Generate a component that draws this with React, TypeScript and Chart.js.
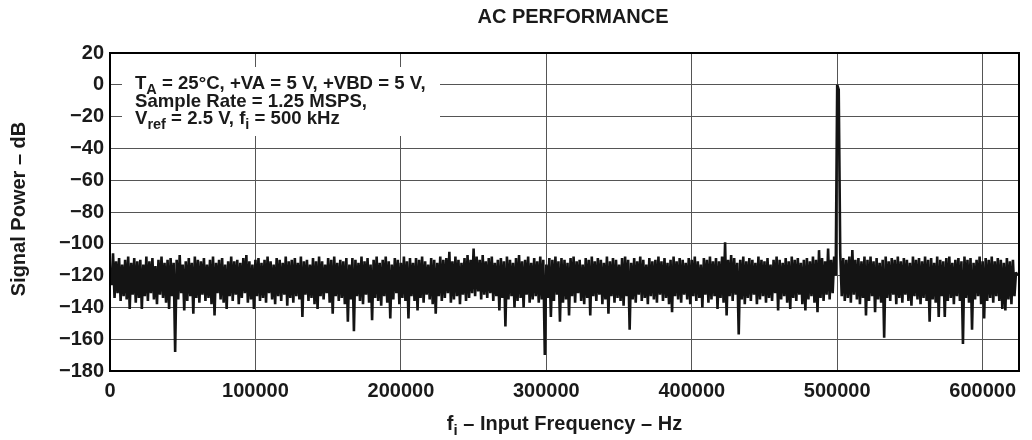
import React, { useEffect, useRef } from 'react';
import { Chart, registerables } from 'chart.js';

Chart.register(...registerables);

// ---------- data ----------
const chartTitle = 'AC PERFORMANCE';
const yAxisTitle = 'Signal Power \u2013 dB';
const xTickValues = [0, 100000, 200000, 300000, 400000, 500000, 600000];
const yTickValues = [20, 0, -20, -40, -60, -80, -100, -120, -140, -160, -180];
const xMaxHz = 625000;
const binCount = 600; // FFT bins spanning 0 .. Nyquist (625 kHz)

// Upper points of the noise floor (even bins), dB
const noiseHigh = [
  -118, -106, -111, -109, -113, -110, -108, -112, -109, -111,
  -110, -113, -108, -111, -109, -114, -110, -108, -112, -110,
  -109, -112, -110, -107, -113, -111, -109, -112, -108, -110,
  -111, -109, -113, -110, -108, -112, -110, -109, -113, -111,
  -108, -111, -110, -112, -109, -107, -111, -113, -110, -109,
  -112, -110, -108, -111, -113, -109, -110, -112, -108, -111,
  -110, -109, -112, -108, -111, -110, -113, -109, -111, -108,
  -111, -113, -109, -110, -108, -112, -110, -111, -109, -113,
  -109, -110, -112, -108, -111, -109, -113, -110, -108, -112,
  -110, -108, -111, -113, -109, -110, -112, -108, -111, -109,
  -112, -109, -110, -108, -111, -113, -109, -110, -112, -108,
  -110, -109, -105, -111, -108, -110, -112, -109, -107, -110,
  -103, -108, -110, -107, -111, -109, -108, -112, -110, -109,
  -111, -108, -110, -112, -109, -107, -111, -110, -108, -112,
  -109, -111, -108, -110, -113, -109, -110, -108, -111, -109,
  -110, -112, -109, -108, -111, -110, -113, -109, -110, -108,
  -111, -109, -110, -112, -108, -111, -109, -110, -113, -109,
  -108, -110, -112, -109, -111, -108, -110, -113, -109, -111,
  -110, -108, -111, -109, -112, -110, -108, -111, -109, -110,
  -112, -109, -110, -108, -111, -113, -109, -110, -108, -111,
  -109, -111, -108, -99, -110, -107, -109, -112, -110, -108,
  -111, -109, -110, -112, -108, -110, -111, -109, -113, -110,
  -108, -110, -112, -109, -111, -108, -110, -109, -112, -110,
  -109, -111, -108, -110, -104, -109, -111, -103, -110, -108,
  0, -106, -109, -110, -108, -104, -110, -109, -111, -108,
  -110, -108, -111, -109, -112, -110, -108, -111, -109, -110,
  -108, -111, -109, -110, -112, -108, -110, -109, -111, -108,
  -110, -109, -112, -108, -110, -111, -109, -108, -112, -110,
  -109, -111, -108, -110, -109, -112, -110, -108, -111, -109,
  -110, -108, -111, -109, -110, -112, -109, -111, -110, -118,
];

// Lower points of the noise floor (odd bins), dB
const noiseLow = [
  -126, -134, -131, -136, -133, -135, -141, -132, -137, -134,
  -141, -133, -136, -131, -135, -138, -132, -134, -137, -141,
  -133, -168, -135, -131, -142, -136, -133, -144, -134, -137,
  -132, -136, -134, -138, -145, -131, -135, -137, -141, -133,
  -136, -132, -138, -134, -131, -137, -135, -141, -133, -136,
  -134, -137, -131, -135, -138, -133, -136, -132, -139, -134,
  -137, -133, -135, -146, -132, -136, -134, -138, -141, -133,
  -135, -131, -137, -144, -133, -136, -134, -138, -149, -135,
  -155, -133, -136, -138, -132, -137, -148, -134, -136, -139,
  -133, -137, -147, -135, -131, -138, -134, -136, -147, -133,
  -136, -142, -134, -137, -132, -135, -138, -144, -133, -136,
  -134, -131, -137, -135, -133, -138, -132, -136, -134, -131,
  -133, -130, -135, -132, -134, -131, -136, -133, -142, -134,
  -152, -135, -133, -140, -136, -134, -140, -132, -137, -135,
  -133, -137, -135, -170, -134, -146, -136, -132, -149, -137,
  -135, -145, -133, -137, -131, -136, -138, -134, -145, -133,
  -136, -132, -138, -135, -144, -133, -137, -134, -136, -139,
  -133, -154, -135, -137, -132, -136, -134, -138, -133, -135,
  -137, -132, -136, -134, -138, -143, -133, -135, -137, -132,
  -135, -138, -133, -136, -134, -140, -132, -137, -135, -133,
  -141, -134, -137, -145, -133, -136, -132, -157, -135, -138,
  -134, -136, -132, -138, -135, -133, -137, -134, -136, -131,
  -142, -135, -133, -137, -141, -134, -136, -132, -138, -142,
  -135, -133, -137, -143, -134, -136, -132, -135, -131, -120,
  -3, -133, -136, -134, -137, -132, -135, -138, -134, -145,
  -136, -133, -143, -135, -137, -159, -134, -136, -132, -138,
  -134, -137, -132, -136, -139, -133, -135, -138, -134, -136,
  -149, -135, -137, -146, -133, -146, -136, -134, -138, -133,
  -136, -163, -134, -137, -154, -135, -133, -138, -147, -136,
  -134, -137, -133, -136, -141, -142, -135, -138, -133, -120,
];

// ---------- styling ----------
const FONT = '"Liberation Sans", Arial, Helvetica, sans-serif';
const TEXT_COLOR = '#1a1a1a';

type Part = { t: string; sub?: boolean };

const annotationLines: Part[][] = [
  [{ t: 'T' }, { t: 'A', sub: true }, { t: ' = 25\u00B0C, +VA = 5 V, +VBD = 5 V,' }],
  [{ t: 'Sample Rate = 1.25 MSPS,' }],
  [{ t: 'V' }, { t: 'ref', sub: true }, { t: ' = 2.5 V, f' }, { t: 'i', sub: true }, { t: ' = 500 kHz' }],
];
const xAxisTitle: Part[] = [{ t: 'f' }, { t: 'i', sub: true }, { t: ' \u2013 Input Frequency \u2013 Hz' }];

function measureParts(ctx: CanvasRenderingContext2D, parts: Part[], size: number, subSize: number) {
  let w = 0;
  for (const p of parts) {
    ctx.font = `bold ${p.sub ? subSize : size}px ${FONT}`;
    w += ctx.measureText(p.t).width;
  }
  return w;
}

function drawParts(
  ctx: CanvasRenderingContext2D,
  parts: Part[],
  x: number,
  y: number,
  size: number,
  subSize: number,
  subShift: number
) {
  let cx = x;
  ctx.textAlign = 'left';
  ctx.textBaseline = 'alphabetic';
  for (const p of parts) {
    ctx.font = `bold ${p.sub ? subSize : size}px ${FONT}`;
    ctx.fillText(p.t, cx, p.sub ? y + subShift : y);
    cx += ctx.measureText(p.t).width;
  }
}

const decorPlugin = {
  id: 'decor',
  beforeDatasetsDraw(chart: any) {
    const ctx: CanvasRenderingContext2D = chart.ctx;
    ctx.save();
    // white annotation box covering grid lines
    ctx.fillStyle = '#ffffff';
    ctx.fillRect(122, 67, 318, 69);
    ctx.fillStyle = TEXT_COLOR;
    const baselines = [89, 107, 124];
    annotationLines.forEach((line, i) => drawParts(ctx, line, 135, baselines[i], 18.6, 14.5, 5));
    ctx.restore();
  },
  afterDraw(chart: any) {
    const ctx: CanvasRenderingContext2D = chart.ctx;
    const a = chart.chartArea;
    ctx.save();
    ctx.strokeStyle = '#000000';
    ctx.lineWidth = 2;
    ctx.strokeRect(a.left, a.top, a.right - a.left, a.bottom - a.top);

    ctx.fillStyle = TEXT_COLOR;
    // chart title
    ctx.font = `bold 20px ${FONT}`;
    ctx.textAlign = 'center';
    ctx.textBaseline = 'alphabetic';
    ctx.fillText(chartTitle, 573, 23);

    // y axis title
    ctx.save();
    ctx.translate(25, (a.top + a.bottom) / 2 - 3);
    ctx.rotate(-Math.PI / 2);
    ctx.textAlign = 'center';
    ctx.fillText(yAxisTitle, 0, 0);
    ctx.restore();

    // x axis title
    const w = measureParts(ctx, xAxisTitle, 20, 15);
    drawParts(ctx, xAxisTitle, (a.left + a.right) / 2 - w / 2, 430, 20, 15, 5);
    ctx.restore();
  },
};

export default function App() {
  const canvasRef = useRef<HTMLCanvasElement | null>(null);

  useEffect(() => {
    const canvas = canvasRef.current;
    if (!canvas) return;
    const binHz = xMaxHz / binCount;
    const points: { x: number; y: number }[] = [];
    for (let k = 0; k < noiseHigh.length; k++) {
      points.push({ x: 2 * k * binHz, y: noiseHigh[k] });
      points.push({ x: (2 * k + 1) * binHz, y: noiseLow[k] });
    }

    const tickFont = { family: FONT, size: 20, weight: 'bold' as const };

    const chart = new Chart(canvas, {
      type: 'line',
      data: {
        datasets: [
          {
            data: points,
            borderColor: '#141414',
            borderWidth: 2.6,
            borderJoinStyle: 'bevel',
            pointRadius: 0,
            tension: 0,
            fill: false,
          },
        ],
      },
      options: {
        responsive: false,
        animation: false,
        devicePixelRatio: 1,
        parsing: false,
        normalized: true,
        layout: { padding: { left: 0, top: 53, right: 13, bottom: 0 } },
        plugins: {
          legend: { display: false },
          tooltip: { enabled: false },
          title: { display: false },
        },
        scales: {
          x: {
            type: 'linear',
            min: 0,
            max: xMaxHz,
            afterBuildTicks: (s: any) => {
              s.ticks = xTickValues.map((v) => ({ value: v }));
            },
            afterFit: (s: any) => {
              s.height = 69;
            },
            ticks: {
              callback: (v: any) => String(v),
              font: tickFont,
              color: TEXT_COLOR,
              padding: 8,
              maxRotation: 0,
              autoSkip: false,
            },
            grid: { color: '#555555', lineWidth: 1, drawTicks: false },
            border: { display: true, color: '#000000', width: 2 },
          },
          y: {
            type: 'linear',
            min: -180,
            max: 20,
            afterBuildTicks: (s: any) => {
              s.ticks = yTickValues.map((v) => ({ value: v }));
            },
            afterFit: (s: any) => {
              s.width = 110;
            },
            ticks: {
              callback: (v: any) => (Number(v) < 0 ? '\u2212' + String(Math.abs(Number(v))) : String(v)),
              font: tickFont,
              color: TEXT_COLOR,
              padding: 6,
              autoSkip: false,
            },
            grid: { color: '#555555', lineWidth: 1, drawTicks: false },
            border: { display: true, color: '#000000', width: 2 },
          },
        },
      },
      plugins: [decorPlugin],
    });

    return () => {
      chart.destroy();
    };
  }, []);

  return (
    <div style={{ position: 'fixed', left: 0, top: 0, width: 1032, height: 440, background: '#ffffff' }}>
      <canvas ref={canvasRef} width={1032} height={440} style={{ width: 1032, height: 440, display: 'block' }} />
    </div>
  );
}
